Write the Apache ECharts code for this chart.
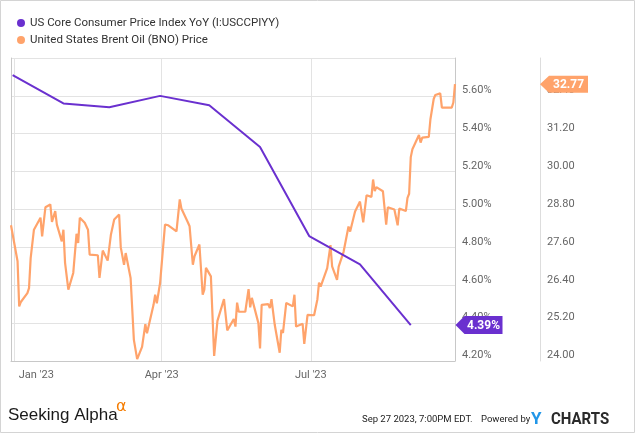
<!DOCTYPE html>
<html><head><meta charset="utf-8">
<script src="https://cdn.jsdelivr.net/npm/echarts@6/dist/echarts.min.js"></script>
<style>html,body{margin:0;padding:0;background:#fff}#c{width:635px;height:433px}</style>
</head><body><div id="c"></div>
<script>
const cpiName = 'US Core Consumer Price Index YoY (I:USCCPIYY)';
const oilName = 'United States Brent Oil (BNO) Price';

const cpiDates = ['2022-12-31','2023-01-31','2023-02-28','2023-03-31','2023-04-30','2023-05-31','2023-06-30','2023-07-31','2023-08-31'];
const cpiValues = [5.71, 5.56, 5.54, 5.60, 5.55, 5.33, 4.86, 4.71, 4.39];

const oilDates = [
'2022-12-30','2023-01-03','2023-01-04','2023-01-05','2023-01-06','2023-01-09','2023-01-10','2023-01-11','2023-01-13','2023-01-17',
'2023-01-18','2023-01-20','2023-01-23','2023-01-24','2023-01-26','2023-01-27','2023-01-30','2023-01-31','2023-02-01','2023-02-03',
'2023-02-06','2023-02-08','2023-02-09','2023-02-10','2023-02-13','2023-02-15','2023-02-16','2023-02-21','2023-02-22','2023-02-24',
'2023-02-27','2023-03-01','2023-03-02','2023-03-03','2023-03-06','2023-03-07','2023-03-09','2023-03-10','2023-03-13','2023-03-15',
'2023-03-16','2023-03-17','2023-03-20','2023-03-22','2023-03-23','2023-03-27','2023-03-28','2023-03-29','2023-03-31','2023-04-03',
'2023-04-05','2023-04-06','2023-04-10','2023-04-12','2023-04-13','2023-04-14','2023-04-17','2023-04-18','2023-04-20','2023-04-21',
'2023-04-24','2023-04-26','2023-04-27','2023-04-28','2023-05-01','2023-05-03','2023-05-04','2023-05-05','2023-05-09','2023-05-11',
'2023-05-15','2023-05-16','2023-05-17','2023-05-18','2023-05-22','2023-05-24','2023-05-25','2023-05-26','2023-05-30','2023-05-31',
'2023-06-01','2023-06-05','2023-06-06','2023-06-07','2023-06-09','2023-06-12','2023-06-13','2023-06-14','2023-06-16','2023-06-20',
'2023-06-21','2023-06-22','2023-06-26','2023-06-27','2023-06-29','2023-07-03','2023-07-05','2023-07-06','2023-07-07','2023-07-11',
'2023-07-13','2023-07-14','2023-07-17','2023-07-18','2023-07-19','2023-07-21','2023-07-24','2023-07-25','2023-07-28','2023-07-31',
'2023-08-02','2023-08-04','2023-08-07','2023-08-08','2023-08-09','2023-08-10','2023-08-14','2023-08-16','2023-08-17','2023-08-21',
'2023-08-23','2023-08-24','2023-08-28','2023-08-29','2023-08-30','2023-08-31','2023-09-01','2023-09-05','2023-09-06','2023-09-07',
'2023-09-11','2023-09-12','2023-09-13','2023-09-14','2023-09-15','2023-09-18','2023-09-19','2023-09-20','2023-09-25','2023-09-26',
'2023-09-27'];
const oilValues = [
28.30,27.16,25.73,25.87,25.83,26.15,26.31,27.26,28.16,28.54,
27.95,28.87,28.96,28.41,28.75,28.32,27.79,28.16,27.11,26.26,
26.79,28.03,27.74,28.54,28.38,28.16,27.37,27.35,26.63,27.50,
27.18,28.01,28.03,28.48,28.64,27.60,27.05,27.42,26.63,24.67,
24.67,24.06,24.45,25.17,24.88,25.78,26.10,25.83,26.47,28.32,
28.30,28.35,28.11,29.12,28.83,28.87,28.39,28.27,27.05,27.32,
27.69,26.10,26.26,26.95,26.68,24.16,24.19,25.27,25.96,24.97,
25.33,25.09,25.85,25.56,25.56,26.28,25.70,26.00,25.20,24.40,
25.78,25.80,25.68,25.96,25.14,24.26,24.99,24.89,25.84,25.73,
26.10,25.09,25.18,24.54,25.46,25.45,25.95,26.48,26.36,26.94,
27.67,27.00,26.57,26.99,26.95,27.46,28.26,28.10,28.74,29.05,
28.39,29.25,29.20,29.75,29.38,29.51,29.38,28.32,28.87,28.80,
28.30,28.83,28.75,29.17,29.30,30.46,30.71,31.16,30.92,31.08,
31.10,31.66,31.66,32.30,32.43,32.48,32.03,32.07,32.03,32.19,
32.77];

const xRange = ['2022-12-30', '2023-09-27'];
const xTickDates = ['2023-01-01', '2023-04-01', '2023-07-01'];
const xTickLabels = ["Jan '23", "Apr '23", "Jul '23"];
const cpiAxis = { min: 4.2, max: 5.8, interval: 0.2 };
const oilAxis = { min: 24, max: 33.6, interval: 1.2 };

function ts(s) { const p = s.split('-').map(Number); return Date.UTC(p[0], p[1] - 1, p[2]); }

const PURPLE = '#6a30cf';
const ORANGE = '#ffa36b';
const FONT = 'Roboto';
const tickTs = xTickDates.map(ts);

const chart = echarts.init(document.getElementById('c'), null, { renderer: 'canvas' });
chart.setOption({
  animation: false,
  backgroundColor: '#fff',
  textStyle: { fontFamily: FONT },
  legend: {
    orient: 'vertical', left: 12, top: 11, icon: 'circle', itemWidth: 8, itemHeight: 8, itemGap: 3,
    selectedMode: false, data: [cpiName, oilName],
    textStyle: { fontSize: 11.5, lineHeight: 14, color: '#333', fontFamily: FONT }
  },
  grid: { left: 11, right: 180, top: 58, bottom: 72, containLabel: false, outerBoundsMode: 'none' },
  xAxis: {
    type: 'value', min: ts(xRange[0]), max: ts(xRange[1]),
    axisLine: { show: true, lineStyle: { color: '#c8c8c8', width: 1 } },
    axisTick: { show: false, customValues: tickTs },
    splitLine: { show: true, lineStyle: { color: '#e3e3e3' } },
    axisLabel: {
      customValues: tickTs, margin: 9, color: '#666', fontSize: 11, fontFamily: FONT,
      showMinLabel: true, showMaxLabel: true,
      formatter: function (v) {
        const i = tickTs.indexOf(v);
        const t = i >= 0 ? xTickLabels[i] : '';
        return i === 0 ? '{j|' + t + '}' : t;
      },
      rich: { j: { padding: [0, 0, 0, 44], color: '#666', fontSize: 11, fontFamily: FONT } }
    }
  },
  yAxis: [
    {
      type: 'value', position: 'right', min: cpiAxis.min, max: cpiAxis.max, interval: cpiAxis.interval,
      axisLine: { show: true, lineStyle: { color: '#c8c8c8' } }, axisTick: { show: false },
      splitLine: { show: true, lineStyle: { color: '#e3e3e3' } },
      axisLabel: { showMaxLabel: false, margin: 7, verticalAlign: 'bottom', color: '#666', fontSize: 11, fontFamily: FONT,
        formatter: function (v) { return v.toFixed(2) + '%'; } }
    },
    {
      type: 'value', position: 'right', offset: 85, min: oilAxis.min, max: oilAxis.max, interval: oilAxis.interval,
      axisLine: { show: true, lineStyle: { color: '#dddddd' } }, axisTick: { show: false },
      splitLine: { show: false },
      axisLabel: { showMaxLabel: false, margin: 7, verticalAlign: 'bottom', color: '#666', fontSize: 11, fontFamily: FONT,
        formatter: function (v) { return v.toFixed(2); } }
    },
    {
      type: 'value', position: 'left', min: cpiAxis.min, max: cpiAxis.max, interval: cpiAxis.interval,
      axisLine: { show: true, lineStyle: { color: '#c8c8c8' } }, axisTick: { show: false },
      splitLine: { show: false }, axisLabel: { show: false }
    }
  ],
  series: [
    {
      name: oilName, type: 'line', yAxisIndex: 1, symbol: 'none', color: ORANGE,
      lineStyle: { width: 2.2, color: ORANGE }, z: 2,
      data: oilDates.map(function (d, i) { return [ts(d), oilValues[i]]; })
    },
    {
      name: cpiName, type: 'line', yAxisIndex: 0, symbol: 'none', color: PURPLE,
      lineStyle: { width: 2, color: PURPLE }, z: 3,
      data: cpiDates.map(function (d, i) { return [ts(d), cpiValues[i]]; })
    }
  ]
});

const lastCpi = cpiValues[cpiValues.length - 1];
const lastOil = oilValues[oilValues.length - 1];
const xEdge = chart.convertToPixel({ xAxisIndex: 0 }, ts(xRange[1]));
const yCpi = chart.convertToPixel({ yAxisIndex: 0 }, lastCpi);
const yOil = chart.convertToPixel({ yAxisIndex: 1 }, lastOil);
const xOilAxis = xEdge + 85;

function badge(x, y, w, h, fill, text) {
  return [
    { type: 'polygon', z: 100, shape: { points: [[x, y], [x + 9, y - h / 2], [x + w, y - h / 2], [x + w, y + h / 2], [x + 9, y + h / 2]] },
      style: { fill: fill } },
    { type: 'text', z: 101, x: x + 9 + (w - 9) / 2, y: y + 0.5,
      style: { text: text, fill: '#fff', font: 'bold 12px ' + FONT, align: 'center', verticalAlign: 'middle' } }
  ];
}

chart.setOption({
  graphic: [].concat(
    badge(xEdge + 0.5, yCpi, 47, 18, PURPLE, lastCpi.toFixed(2) + '%'),
    badge(xOilAxis, yOil, 48, 17, ORANGE, lastOil.toFixed(2)),
    [
      { type: 'rect', z: 0, shape: { x: 0.5, y: 0.5, width: 634, height: 432 }, style: { fill: 'none', stroke: '#d4d4d4', lineWidth: 1 } },
      { type: 'text', x: 8, y: 415, style: { text: 'Seeking Alpha', font: '17px "Liberation Sans"', fill: '#1a1a1a', verticalAlign: 'middle' } },
      { type: 'text', x: 116, y: 407, style: { text: 'α', font: '16px "DejaVu Sans"', fill: '#f57c00', verticalAlign: 'middle' } },
      { type: 'text', x: 362, y: 420, style: { text: 'Sep 27 2023, 7:00PM EDT.', font: '9.5px ' + FONT, fill: '#222', verticalAlign: 'middle' } },
      { type: 'text', x: 481, y: 420, style: { text: 'Powered by', font: '9.5px ' + FONT, fill: '#222', verticalAlign: 'middle' } },
      { type: 'text', x: 531, y: 420, style: { text: 'Y', font: 'bold 17px ' + FONT, fill: '#2196e8', verticalAlign: 'middle' } },
      { type: 'text', x: 551, y: 420, scaleY: 1.15, style: { text: 'CHARTS', font: 'bold 15px ' + FONT, fill: '#2a2a2a', verticalAlign: 'middle' } }
    ]
  )
});
</script>
</body></html>
